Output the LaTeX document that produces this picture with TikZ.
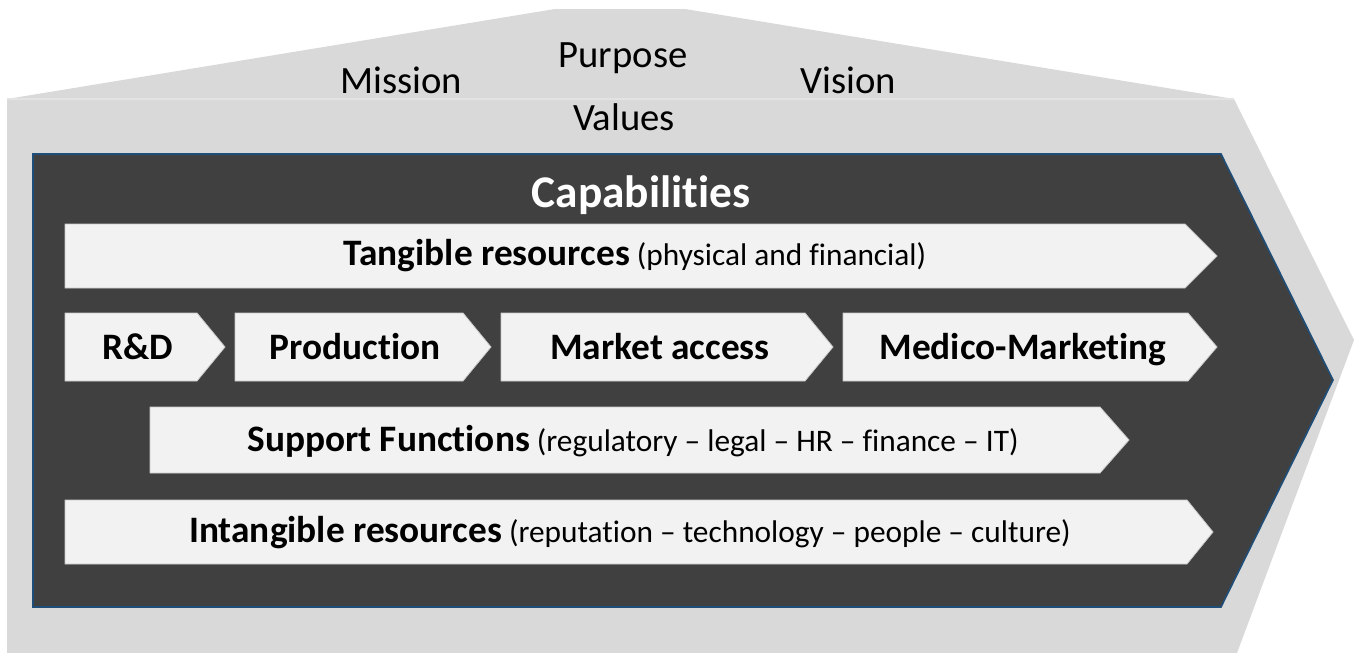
\documentclass[tikz,border=0pt]{standalone}
\usepackage{fontspec}
\setmainfont{Carlito}[Ligatures=NoCommon]
\usepackage{tikz}
\usepackage{xcolor}
\definecolor{outergray}{HTML}{D9D9D9}
\definecolor{seamgray}{HTML}{E3E3E3}
\definecolor{coredark}{HTML}{404040}
\definecolor{coreedge}{HTML}{1F4E79}
\definecolor{boxfill}{HTML}{F2F2F2}
\definecolor{boxedge}{HTML}{C8C8C8}
\newcommand{\rowbold}{\fontsize{28}{33}\selectfont\bfseries}
\newcommand{\rownote}{\fontsize{23.5}{28}\selectfont}
\begin{document}
\begin{tikzpicture}[x=0.75pt,y=-0.75pt,
  chev/.style={fill=boxfill,draw=boxedge,line width=0.6pt},
  toptext/.style={font=\fontsize{29}{34}\selectfont,anchor=base,inner sep=0pt},
  rowtext/.style={font=\rownote,anchor=base,inner sep=0pt}]
\useasboundingbox (0,0) rectangle (1354,653);
% outer house shape
\fill[outergray] (7,99) -- (555,9) -- (685,9) -- (1234,99) -- (1354,340)
  -- (1237,653) -- (7,653) -- cycle;
\draw[seamgray,line width=0.8pt] (7,99) -- (1234,99);
\node[toptext] (mission) at (401,93) {Mission};
\node[toptext] (purpose) at (623,67) {Purpose};
\node[toptext] (values) at (624,130) {Values};
\node[toptext] (vision) at (848,93) {Vision};
% dark core arrow
\fill[coredark] (33,154) -- (1221,154) -- (1333,380) -- (1221,607) -- (33,607) -- cycle;
\draw[coreedge,line width=1.2pt] (33,154) -- (1221,154) -- (1333,380) -- (1221,607) -- (33,607) -- cycle;
\node[anchor=base,inner sep=0pt,text=white,font=\fontsize{34}{40}\selectfont\bfseries] (capab) at (641,207) {Capabilities};
% tangible resources
\draw[chev] (65,224) -- (1185,224) -- (1217,256) -- (1185,288) -- (65,288) -- cycle;
\node[rowtext] (tangible) at (635,265) {{\rowbold Tangible resources} (physical and financial)};
% value chain
\draw[chev] (65,313) -- (197,313) -- (225,347) -- (197,381) -- (65,381) -- cycle;
\node[rowtext] (rnd) at (138,359) {\rowbold R\&D};
\draw[chev] (235,313) -- (463,313) -- (491,347) -- (463,381) -- (235,381) -- cycle;
\node[rowtext] (production) at (355,359) {\rowbold Production};
\draw[chev] (501,313) -- (805,313) -- (833,347) -- (805,381) -- (501,381) -- cycle;
\node[rowtext] (market) at (660,359) {\rowbold Market access};
\draw[chev] (843,313) -- (1188,313) -- (1217,347) -- (1188,381) -- (843,381) -- cycle;
\node[rowtext] (medico) at (1023,359) {\rowbold Medico-Marketing};
% support functions
\draw[chev] (150,407) -- (1100,407) -- (1129,440) -- (1100,473) -- (150,473) -- cycle;
\node[rowtext] (support) at (633,451) {{\rowbold Support Functions} (regulatory -- legal -- HR -- finance -- IT)};
% intangible resources
\draw[chev] (65,500) -- (1187,500) -- (1213,532) -- (1187,564) -- (65,564) -- cycle;
\node[rowtext] (intangible) at (630,542) {{\rowbold Intangible resources} (reputation -- technology -- people -- culture)};
\end{tikzpicture}
\end{document}
